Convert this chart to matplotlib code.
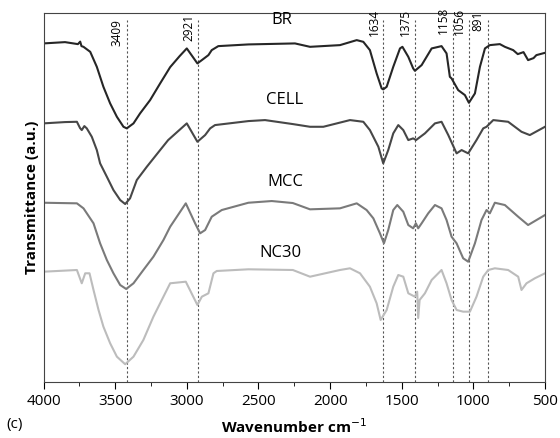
"""FTIR spectra of BR, CELL, MCC and NC30 (panel c)."""

import matplotlib

matplotlib.use("Agg")
import matplotlib.pyplot as plt  # noqa: E402
from matplotlib.ticker import MultipleLocator  # noqa: E402

plt.rcParams.update({"font.family": ["Open Sans", "DejaVu Sans"]})

# wavenumber (cm-1) and transmittance (a.u., stacked)
br_wn = [4000, 3850, 3760, 3744, 3735, 3721, 3674, 3628, 3582, 3535, 3488, 3442, 3419,
         3372, 3326, 3256, 3186, 3116, 3050, 3000, 2926, 2895, 2849, 2826, 2780, 2570,
         2245, 2140, 1931, 1814, 1768, 1722, 1675, 1640, 1629, 1605, 1559, 1512,
         1495, 1454, 1420, 1408, 1361, 1291, 1222, 1187, 1164, 1152, 1106, 1059,
         1031, 989, 954, 919, 885, 815, 780, 722, 690, 650, 618, 580, 560, 500]
br_t = [338.7, 340, 338, 340.5, 336, 335.3, 330.3, 315.3, 295.3, 278.7, 265.3, 255.3,
        253.7, 258.7, 268.7, 282, 298.7, 315, 326, 333.7, 318.7, 322, 327, 332, 336,
        337.7, 338.7, 335.3, 337, 342, 340.3, 332, 308.7, 293.7, 292.7, 295.3, 315.3,
        333.7, 335.3, 325.3, 313.7, 311.3, 317, 333.7, 336, 328.7, 305.3, 303.7, 292,
        287, 279.3, 288.7, 315.3, 333.7, 337, 338, 335.3, 332, 328, 330, 322, 324, 327,
        329.3]

cell_wn = [4000, 3850, 3767, 3745, 3733, 3715, 3698, 3663, 3628, 3605, 3558, 3512,
           3465, 3430, 3396, 3349, 3279, 3186, 3130, 3000, 2926, 2872, 2837, 2803,
           2570, 2454, 2260, 2140, 2047, 1861, 1768, 1722, 1663, 1629, 1594, 1559,
           1524, 1489, 1454, 1420, 1400, 1338, 1268, 1222, 1175, 1117, 1082, 1036,
           978, 931, 908, 861, 757, 664, 606, 500]
cell_t = [258.7, 260, 260.3, 254, 252, 256, 253.7, 245.3, 232, 218.7, 205.3, 192, 182,
          178, 183.7, 202, 215.3, 232, 242, 258.7, 240.3, 247, 253.7, 257, 261, 262,
          258, 255.3, 255.3, 262, 260.3, 252, 235.3, 218.7, 232, 248.7, 257, 252, 242,
          243.7, 242, 248.7, 258.7, 260.3, 247, 228.7, 232, 228.7, 242, 253.7, 255.3,
          262, 260.3, 250.3, 247, 255.3]

mcc_wn = [4000, 3767, 3721, 3651, 3605, 3558, 3512, 3465, 3423, 3372, 3303, 3233,
          3163, 3116, 3007, 2942, 2907, 2872, 2826, 2756, 2570, 2407, 2260, 2140,
          1931, 1814, 1745, 1698, 1652, 1624, 1594, 1559, 1531, 1489, 1454, 1420,
          1401, 1385, 1361, 1315, 1268, 1222, 1187, 1152, 1117, 1071, 1036, 989, 943,
          908, 885, 850, 780, 687, 618, 500]
mcc_t = [179.3, 178.7, 173.7, 158.7, 138.7, 122, 108.7, 97, 93, 98.7, 112, 125.3,
         142, 155.3, 178.7, 158.7, 148.7, 152, 165.3, 172, 179.3, 181, 179, 172.7,
         173.7, 178.7, 172, 163.7, 148.7, 138.7, 152, 172, 177, 170.3, 157, 153.7,
         158.7, 153.7, 158.7, 168.7, 177, 173.7, 162, 145.3, 138.7, 123.7, 120.3,
         138.7, 162, 172, 168.7, 179.3, 177, 165.3, 157, 167]

nc30_wn = [4000, 3767, 3733, 3709, 3679, 3651, 3616, 3582, 3535, 3488, 3430, 3372,
           3303, 3233, 3163, 3116, 3007, 2926, 2895, 2849, 2814, 2791, 2570, 2260,
           2140, 1931, 1861, 1791, 1722, 1675, 1647, 1605, 1559, 1524, 1489, 1454,
           1408, 1392, 1385, 1375, 1338, 1291, 1222, 1187, 1152, 1117, 1071, 1024,
           978, 931, 896, 850, 757, 687, 664, 629, 571, 500]
nc30_t = [110.3, 112, 98.7, 108.7, 108.7, 92, 72, 55.3, 38.7, 25.3, 17.7, 25.3, 42,
          65.3, 85.3, 98.7, 100.3, 77, 85.3, 88.7, 108.7, 111, 112.7, 112, 105.3, 112,
          113.7, 108.7, 95.3, 78.7, 62, 72, 95.3, 107, 105.3, 88.7, 85.3, 90.3, 64, 82,
          88.7, 102, 112, 98.7, 82, 72, 70.3, 70.3, 85.3, 105.3, 112, 113.7, 112,
          105.3, 92, 98.7, 103.7, 108.7]

samples = ["BR", "CELL", "MCC", "NC30"]
peak_pos = [3419, 2923, 1629, 1408, 1145, 1031, 901]  # where the dashed lines sit
peak_labels = ["3409", "2921", "1634", "1375", "1158", "1056", "891"]

series = [(br_wn, br_t), (cell_wn, cell_t), (mcc_wn, mcc_t), (nc30_wn, nc30_t)]
colors = ["#262626", "#474747", "#7a7a7a", "#bcbcbc"]
name_xy = [(2335, 362), (2315, 282), (2315, 200), (2343, 129)]
label_bottom = [336, 341, 346, 346, 348, 347, 351]

fig = plt.figure(figsize=(5.6, 4.38), dpi=100)
ax = fig.add_axes([0.0777, 0.128, 0.8955, 0.842])

for x in peak_pos:
    ax.plot([x, x], [0, 362], color="#555555", lw=0.8, ls=(0, (2, 2)), zorder=1)

for (wn, t), c in zip(series, colors):
    ax.plot(wn, t, color=c, lw=1.5, zorder=2)

for name, (x, y) in zip(samples, name_xy):
    ax.text(x, y, name, ha="center", va="center", fontsize=12)

for x, lab, yb in zip(peak_pos, peak_labels, label_bottom):
    ax.annotate(lab, xy=(x, yb), xytext=(-2, 0), textcoords="offset points",
                rotation=90, ha="right", va="bottom", fontsize=8.5)

ax.set_xlim(4000, 500)
ax.set_ylim(0, 369)
ax.xaxis.set_major_locator(MultipleLocator(500))
ax.xaxis.set_minor_locator(MultipleLocator(250))
ax.tick_params(axis="x", which="major", length=5, labelsize=11, direction="out")
ax.tick_params(axis="x", which="minor", length=3, direction="out")
ax.set_yticks([])
for s in ax.spines.values():
    s.set_color("#444444")

ax.set_xlabel("Wavenumber cm$^{-1}$", fontsize=11, fontweight="bold", labelpad=6)
ax.set_ylabel("Transmittance (a.u.)", fontsize=11, fontweight="bold", labelpad=3)
fig.text(0.012, 0.022, "(c)", fontsize=11)

fig.savefig("out.png", dpi=100)
